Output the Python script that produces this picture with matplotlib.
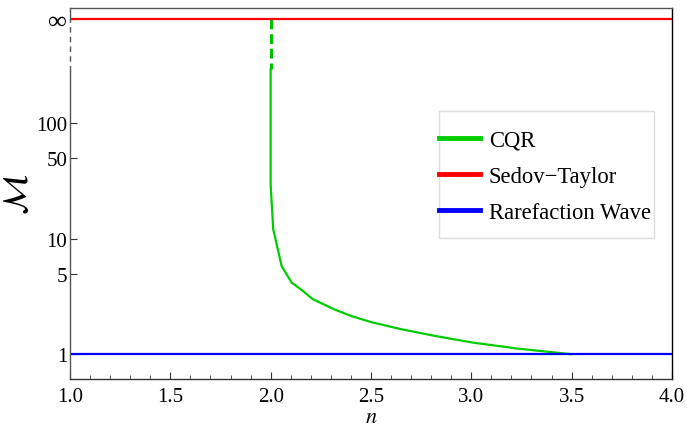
import numpy as np
from matplotlib import pyplot as plt
from matplotlib.patches import Rectangle
from matplotlib.ticker import FixedLocator, MultipleLocator, NullLocator

plt.rcParams['font.family'] = ['Liberation Serif', 'DejaVu Serif']
plt.rcParams['mathtext.fontset'] = 'stix'

INF = 800.0  # where "infinity" sits on the log axis

# CQR curve
cqr_n = [2.0, 2.0, 2.013, 2.055, 2.105, 2.15, 2.21, 2.317, 2.4, 2.5, 2.65, 2.82, 3.01, 3.23, 3.5]
cqr_m = [294, 29.6, 12.1, 5.8, 4.17, 3.66, 3.0, 2.45, 2.15, 1.9, 1.65, 1.44, 1.26, 1.12, 1.0]
cqr_dash_n = [2.0, 2.0]
cqr_dash_m = [INF, 294]

n_range = [1.0, 4.0]
sedov_m = [INF, INF]
rare_m = [1.0, 1.0]

axis_dash_m = [282, INF]

yticks = [1, 5, 10, 50, 100, INF]
ylabels = ['1', '5', '10', '50', '100', '\u221e']

fig = plt.figure(figsize=(6.87, 4.31), dpi=100)
ax = fig.add_axes([0.1019, 0.1183, 0.8761, 0.8607])

ax.plot(cqr_dash_n, cqr_dash_m, color='#00c000', lw=2.2, ls=(0, (3.2, 1.6)))
ax.plot(cqr_n, cqr_m, color='#00cc00', lw=1.6, label='CQR')
ax.plot(n_range, sedov_m, color='#ff0000', lw=1.6, label='Sedov\u2212Taylor')
ax.plot(n_range, rare_m, color='#0000ff', lw=1.6, label='Rarefaction Wave')

ax.set_yscale('log')
ax.set_xlim(1.0, 4.0)
ax.set_ylim(0.61, 1000)

# left axis with break up to infinity
ax.spines['left'].set_bounds(0.61, axis_dash_m[0])
ax.spines['left'].set_color('#555555')
ax.plot([1.0, 1.0], axis_dash_m, color='#555555', lw=1.0, ls=(0, (4, 3)), clip_on=False)
ax.plot([1.0, 1.0], [INF, 1000], color='#555555', lw=1.0, clip_on=False)
ax.spines['bottom'].set_color('#333333')
ax.spines['top'].set_color('#555555')
ax.spines['right'].set_color('#000000')
for s in ax.spines.values():
    s.set_linewidth(1.0)

ax.yaxis.set_major_locator(FixedLocator(yticks))
ax.yaxis.set_minor_locator(NullLocator())
ax.set_yticklabels(ylabels)
ax.xaxis.set_major_locator(MultipleLocator(0.5))
ax.xaxis.set_minor_locator(MultipleLocator(0.1))
ax.xaxis.set_major_formatter(plt.FuncFormatter(lambda v, p: f'{v:.1f}'))
ax.tick_params(axis='both', which='major', direction='in', length=5, width=0.8,
               labelsize=15, color='#333333', top=False, right=False)
ax.get_yticklabels()[-1].set_fontsize(19)
ax.tick_params(axis='x', which='minor', direction='in', length=3, width=0.6, color='#333333')
ax.tick_params(axis='x', pad=6)
ax.tick_params(axis='y', pad=2)

ax.set_xlabel('$n$', fontsize=16, labelpad=1)
ax.set_ylabel(r'$\mathcal{M}$', fontsize=25, labelpad=1)

# legend without its own frame, box drawn separately
box = Rectangle((439 / 687, 1 - 239 / 431), (654 - 439) / 687, (239 - 112) / 431,
                transform=fig.transFigure, facecolor='white', edgecolor='#dddddd',
                lw=1.0, zorder=4, clip_on=False)
ax.add_patch(box)
leg = ax.legend(loc='upper left', bbox_to_anchor=(439 / 687, 1 - 131 / 431), fontsize=16.3,
                frameon=False, handlelength=1.8, handletextpad=0.4,
                labelspacing=0.66, borderpad=0, borderaxespad=0, bbox_transform=fig.transFigure)
for h in leg.get_lines():
    h.set_linewidth(3.5)
leg.set_zorder(5)

fig.savefig('out.png', dpi=100)
